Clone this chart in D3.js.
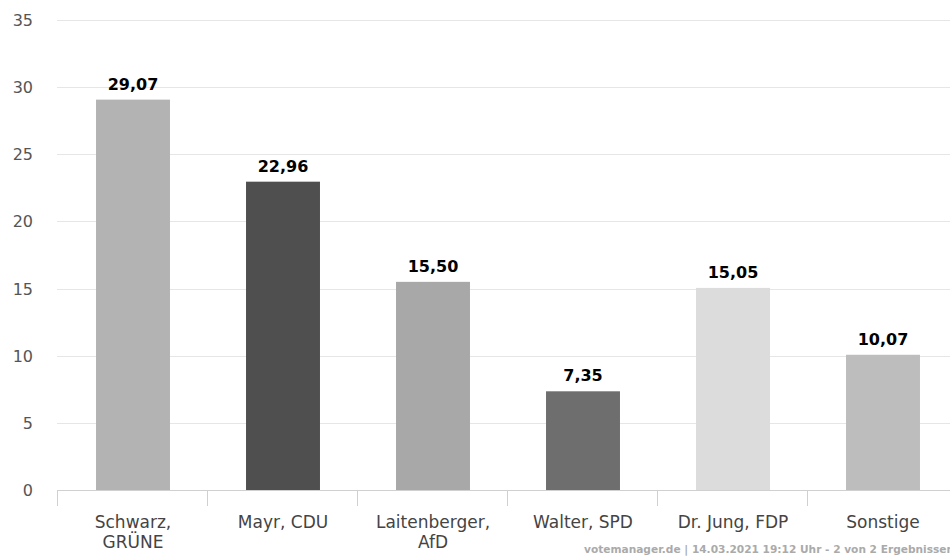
<!DOCTYPE html>
<html>
<head>
<meta charset="utf-8">
<script src="https://cdn.jsdelivr.net/npm/d3@7"></script>
<style>
  body { margin: 0; background: #fff; }
  svg { display: block; font-family: "DejaVu Sans", Verdana, sans-serif; }
</style>
</head>
<body>
<svg id="chart" width="950" height="556"></svg>
<script>
// data
var candidates = ["Schwarz, GRÜNE", "Mayr, CDU", "Laitenberger, AfD", "Walter, SPD", "Dr. Jung, FDP", "Sonstige"];
var labelLines = [["Schwarz,", "GRÜNE"], ["Mayr, CDU"], ["Laitenberger,", "AfD"], ["Walter, SPD"], ["Dr. Jung, FDP"], ["Sonstige"]];
var shares = [29.07, 22.96, 15.50, 7.35, 15.05, 10.07];
var barColors = ["#b3b3b3", "#4f4f4f", "#a8a8a8", "#6e6e6e", "#dcdcdc", "#bdbdbd"];
var yTicks = [0, 5, 10, 15, 20, 25, 30, 35];
var footer = "votemanager.de | 14.03.2021 19:12 Uhr - 2 von 2 Ergebnissen";

const drawChart = function () {
  var svg = d3.select("#chart");
  var mLeft = 57, mRight = 957, mTop = 20, mBottom = 490;

  var x = d3.scaleBand().domain(candidates).range([mLeft, mRight]).padding(0);
  var y = d3.scaleLinear().domain([0, 35]).range([mBottom, mTop]);

  var fmt = function (v) { return v.toFixed(2).replace(".", ","); };

  // grid
  svg.append("g").selectAll("line").data(yTicks.filter(d => d > 0)).join("line")
    .attr("x1", mLeft).attr("x2", 950)
    .attr("y1", d => Math.round(y(d)) + 0.5).attr("y2", d => Math.round(y(d)) + 0.5)
    .attr("stroke", "#e6e6e6").attr("stroke-width", 1);

  // y labels
  svg.append("g").selectAll("text").data(yTicks).join("text")
    .attr("x", 33).attr("y", d => y(d) + 6)
    .attr("text-anchor", "end")
    .attr("font-size", 16).attr("fill", "#555")
    .text(d => d);

  // bars
  var bw = x.bandwidth() * 0.493;
  svg.append("g").selectAll("rect").data(shares).join("rect")
    .attr("x", (d, i) => x(candidates[i]) + (x.bandwidth() - bw) / 2 + 1)
    .attr("width", bw)
    .attr("y", d => y(d))
    .attr("height", d => mBottom - y(d))
    .attr("fill", (d, i) => barColors[i]);

  // value labels
  svg.append("g").selectAll("text").data(shares).join("text")
    .attr("x", (d, i) => x(candidates[i]) + x.bandwidth() / 2 + 1)
    .attr("y", d => y(d) - 10)
    .attr("text-anchor", "middle")
    .attr("font-size", 16).attr("font-weight", "bold").attr("fill", "#000")
    .text(fmt);

  // x axis line and ticks
  svg.append("line").attr("x1", mLeft).attr("x2", 950)
    .attr("y1", mBottom + 0.5).attr("y2", mBottom + 0.5)
    .attr("stroke", "#d0d0d0");
  svg.append("g").selectAll("line").data(candidates).join("line")
    .attr("x1", d => Math.round(x(d)) + 0.5).attr("x2", d => Math.round(x(d)) + 0.5)
    .attr("y1", mBottom).attr("y2", mBottom + 16)
    .attr("stroke", "#d0d0d0");

  // category labels
  var cat = svg.append("g").selectAll("text").data(candidates).join("text")
    .attr("x", d => x(d) + x.bandwidth() / 2 + 1)
    .attr("y", 528)
    .attr("text-anchor", "middle")
    .attr("font-size", 17).attr("fill", "#444");
  cat.selectAll("tspan").data((d, i) => labelLines[i]).join("tspan")
    .attr("x", function () { return d3.select(this.parentNode).attr("x"); })
    .attr("dy", (d, j) => j === 0 ? 0 : 20)
    .text(d => d);

  // footer (cut off at the right edge, as in the original)
  svg.append("text").attr("x", 954).attr("y", 553)
    .attr("text-anchor", "end")
    .attr("font-size", 10.6).attr("font-weight", "bold").attr("fill", "#aaa")
    .text(footer);
};

drawChart();
</script>
</body>
</html>
